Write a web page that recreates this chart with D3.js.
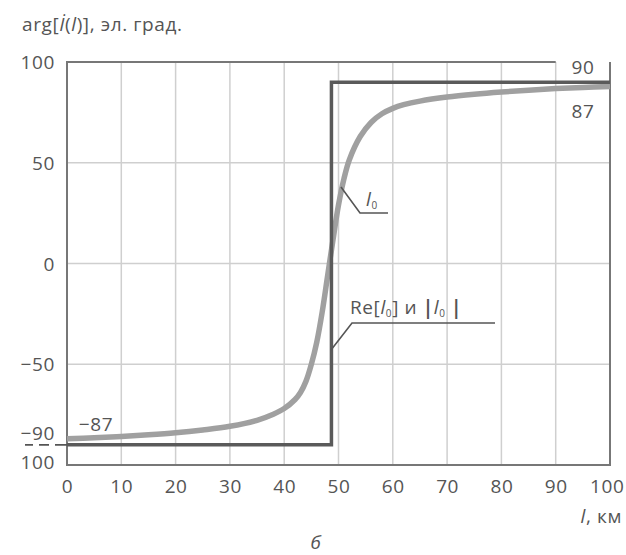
<!DOCTYPE html>
<html>
<head>
<meta charset="utf-8">
<script src="https://cdn.jsdelivr.net/npm/d3@7"></script>
<style>
  html, body { margin: 0; padding: 0; background: #fff; }
  svg { display: block; }
  text { font-family: "Open Sans", "Noto Sans", sans-serif; fill: #555; letter-spacing: 0.6px; }
</style>
</head>
<body>
<svg id="chart" width="626" height="555"></svg>
<script>
// distance along the line, km
const curveX = [0, 5, 10, 15, 20, 25, 30, 35, 38, 40, 42, 43, 44, 45, 46, 47, 48, 49, 50, 51, 52, 54, 56, 58, 60, 62, 65, 70, 75, 80, 85, 90, 95, 100];
// phase of the current, el. degrees
const curveY = [-87, -86.5, -85.8, -85, -84, -82.6, -80.8, -77.8, -74.8, -72, -67.5, -64, -58.5, -50, -39, -24, -6, 12, 29, 42, 51.5, 63, 70, 74.3, 77, 78.8, 80.6, 82.6, 84, 85.1, 86, 86.8, 87.4, 87.9];
// idealised step: Re[l0] and |l0|
const stepX = [0, 48.7, 48.7, 100];
const stepY = [-90, -90, 90, 90];

const xTicks = [0, 10, 20, 30, 40, 50, 60, 70, 80, 90, 100];
const yTicks = [100, 50, 0, -50];
const yGrid = [50, 0, -50];

const FS = 19;
const svg = d3.select("#chart");
const x = d3.scaleLinear().domain([0, 100]).range([67, 610]);
const y = d3.scaleLinear().domain([-100, 100]).range([465, 62]);

// grid
const grid = svg.append("g");
grid.selectAll("line.v").data(xTicks.slice(1, -1)).join("line")
  .attr("x1", d => x(d)).attr("x2", d => x(d))
  .attr("y1", y(100)).attr("y2", y(-100))
  .attr("stroke", "#cfcfcf").attr("stroke-width", 1.5);
grid.selectAll("line.h").data(yGrid).join("line")
  .attr("x1", x(0)).attr("x2", x(100))
  .attr("y1", d => y(d)).attr("y2", d => y(d))
  .attr("stroke", "#cfcfcf").attr("stroke-width", 1.5);

// frame (top edge stops at 90 to leave room for the label)
const frame = svg.append("g").attr("stroke", "#777").attr("stroke-width", 2).attr("fill", "none");
frame.append("path").attr("d", d3.line()([
  [x(90), y(100)], [x(0), y(100)], [x(0), y(-100)], [x(100), y(-100)], [x(100), y(100)]
]));

// axes: labels only
const yAxis = svg.append("g").attr("transform", `translate(${x(0) - 12},0)`)
  .call(d3.axisLeft(y).tickValues(yTicks).tickSize(0).tickPadding(0)
    .tickFormat(d => d < 0 ? "\u2212" + Math.abs(d) : d));
yAxis.select(".domain").remove();
yAxis.selectAll("text").attr("font-size", FS).attr("fill", "#555")
  .attr("font-family", "Open Sans").attr("dy", "0.35em");

const xAxis = svg.append("g").attr("transform", `translate(0,${y(-100) + 12})`)
  .call(d3.axisBottom(x).tickValues(xTicks).tickSize(0).tickPadding(0));
xAxis.select(".domain").remove();
xAxis.selectAll("text").attr("font-size", FS).attr("fill", "#555")
  .attr("font-family", "Open Sans").attr("dy", "0.85em");
// keep the last label inside the page
xAxis.selectAll(".tick").filter(d => d === 100).select("text")
  .attr("text-anchor", "end").attr("x", 14);

// extra labels at the lower end of the scale
svg.append("text").attr("x", x(0) - 12).attr("y", 440)
  .attr("text-anchor", "end").attr("font-size", FS).text("\u221290");
svg.append("text").attr("x", x(0) - 12).attr("y", 469)
  .attr("text-anchor", "end").attr("font-size", FS).text("100");
svg.append("line").attr("x1", 25).attr("x2", x(0))
  .attr("y1", y(-90)).attr("y2", y(-90))
  .attr("stroke", "#555").attr("stroke-width", 1.8)
  .attr("stroke-dasharray", "8,6,10,6,20");

// curve
const line = d3.line().x(d => x(d[0])).y(d => y(d[1])).curve(d3.curveCatmullRom.alpha(0.5));
svg.append("path").datum(curveX.map((d, i) => [d, curveY[i]]))
  .attr("d", line).attr("fill", "none")
  .attr("stroke", "#a0a0a0").attr("stroke-width", 5.5).attr("stroke-linejoin", "round");

// step
svg.append("path").datum(stepX.map((d, i) => [d, stepY[i]]))
  .attr("d", d3.line().x(d => x(d[0])).y(d => y(d[1])))
  .attr("fill", "none").attr("stroke", "#5a5a5a").attr("stroke-width", 3.5);

// value labels
svg.append("text").attr("x", 583).attr("y", y(90) - 8).attr("text-anchor", "middle")
  .attr("font-size", FS).text("90");
svg.append("text").attr("x", 583).attr("y", y(87) + 30).attr("text-anchor", "middle")
  .attr("font-size", FS).text("87");
svg.append("text").attr("x", 96).attr("y", y(-87) - 8).attr("text-anchor", "middle")
  .attr("font-size", FS).text("\u221287");

// leaders
const leaders = svg.append("g").attr("stroke", "#555").attr("stroke-width", 1.6).attr("fill", "none");
leaders.append("path").attr("d", d3.line()([[341, 187], [360, 213], [388, 213]]));
leaders.append("path").attr("d", d3.line()([[331, 350], [352, 323], [495, 323]]));

const l0 = svg.append("text").attr("x", 366).attr("y", 206).attr("font-size", FS);
l0.append("tspan").attr("font-style", "italic").text("l");
l0.append("tspan").attr("font-size", 10).attr("dy", 3).text("0");

const re = svg.append("text").attr("x", 350).attr("y", 314).attr("font-size", FS);
re.append("tspan").text("Re[");
re.append("tspan").attr("font-style", "italic").text("l");
re.append("tspan").attr("font-size", 10).attr("dy", 3).text("0");
re.append("tspan").attr("dy", -3).text("] и  ");
re.append("tspan").attr("font-weight", "bold").text("|");
re.append("tspan").attr("font-style", "italic").text("l");
re.append("tspan").attr("font-size", 10).attr("dy", 3).text("0");
re.append("tspan").attr("dy", -3).attr("font-weight", "bold").text(" |");

// titles
const t = svg.append("text").attr("x", 22).attr("y", 31).attr("font-size", FS);
t.append("tspan").text("arg[");
t.append("tspan").attr("font-style", "italic").text("İ");
t.append("tspan").text("(");
t.append("tspan").attr("font-style", "italic").text("l");
t.append("tspan").text(")], эл. град.");

const xl = svg.append("text").attr("x", 622).attr("y", 523).attr("text-anchor", "end").attr("font-size", FS);
xl.append("tspan").attr("font-style", "italic").text("l");
xl.append("tspan").text(", км");

svg.append("text").attr("x", 316).attr("y", 549).attr("text-anchor", "middle")
  .attr("font-size", FS).attr("font-style", "italic").text("б");
</script>
</body>
</html>
